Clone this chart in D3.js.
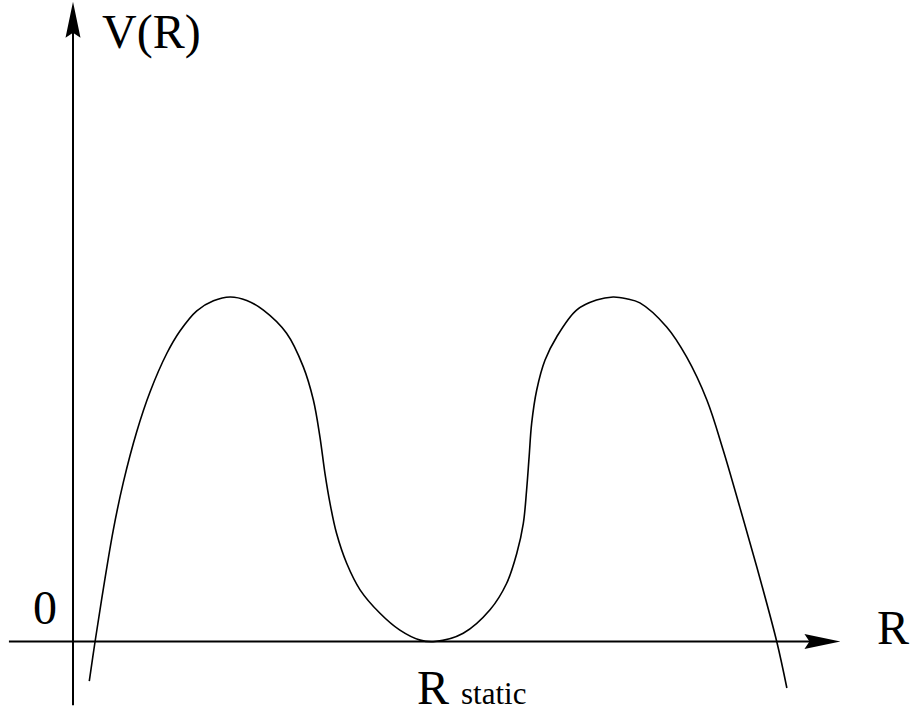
<!DOCTYPE html>
<html>
<head>
<meta charset="utf-8">
<script src="https://cdn.jsdelivr.net/npm/d3@7"></script>
</head>
<body style="margin:0;background:#fff">
<svg id="chart" width="912" height="710" style="display:block"></svg>
<script>
// ---- data (R in units of R_static, V normalised to barrier height) ----
const rValues = [0.045, 0.061, 0.084, 0.111, 0.139, 0.176, 0.213, 0.259, 0.296, 0.342, 0.388, 0.434, 0.480,
                 0.526, 0.590, 0.636, 0.664, 0.682, 0.696, 0.710, 0.728, 0.756, 0.793, 0.848, 0.903, 0.959, 1.000,
                 1.078, 1.152, 1.198, 1.226, 1.244, 1.253, 1.260, 1.267, 1.281, 1.304, 1.336, 1.391, 1.446, 1.492,
                 1.529, 1.566, 1.640, 1.695, 1.751, 1.796, 1.842, 1.889, 1.944, 1.972];
const vValues = [-0.115, 0.000, 0.154, 0.322, 0.462, 0.609, 0.725, 0.836, 0.902, 0.960, 0.989, 1.000, 0.990,
                 0.962, 0.895, 0.798, 0.701, 0.595, 0.488, 0.401, 0.314, 0.227, 0.150, 0.082, 0.033, 0.004, 0.000,
                 0.024, 0.092, 0.169, 0.256, 0.343, 0.439, 0.536, 0.633, 0.730, 0.817, 0.884, 0.962, 0.991, 1.000,
                 0.995, 0.983, 0.913, 0.826, 0.701, 0.556, 0.390, 0.216, 0.000, -0.135];
const axisRExtent = [-0.177, 2.12];
const axisVExtent = [-0.185, 1.857];
const yAxisLabel = "V(R)";
const xAxisLabel = "R";
const originLabel = "0";
const rStaticMain = "R";
const rStaticSub = "static";
const rStaticValue = 1.0;

// ---- scales ----
const x = d3.scaleLinear().domain([0, 1]).range([73, 435]);
const y = d3.scaleLinear().domain([0, 1]).range([641.5, 297]);

const svg = d3.select("#chart");

// arrowhead shape (pointing +x), indented back
function arrowPath(len, hw, notch) {
  return `M0,0 L${-len},${-hw} L${-len + notch},0 L${-len},${hw} Z`;
}

// x axis
const x0 = x(axisRExtent[0]), x1 = x(axisRExtent[1]);
svg.append("line")
  .attr("x1", x0).attr("x2", x1 - 10)
  .attr("y1", y(0)).attr("y2", y(0))
  .attr("stroke", "#000").attr("stroke-width", 2);
svg.append("path")
  .attr("d", arrowPath(36, 7.5, 5))
  .attr("transform", `translate(${x1},${y(0)})`)
  .attr("fill", "#000");

// y axis
const yb = y(axisVExtent[0]), yt = y(axisVExtent[1]);
svg.append("line")
  .attr("x1", x(0)).attr("x2", x(0))
  .attr("y1", yb).attr("y2", yt + 10)
  .attr("stroke", "#000").attr("stroke-width", 2);
svg.append("path")
  .attr("d", arrowPath(36, 7.5, 5))
  .attr("transform", `translate(${x(0)},${yt}) rotate(-90)`)
  .attr("fill", "#000");

// curve
const pts = rValues.map((r, i) => [r, vValues[i]]);
const line = d3.line()
  .x(d => x(d[0]))
  .y(d => y(d[1]))
  .curve(d3.curveCatmullRom.alpha(0.5));
svg.append("path")
  .datum(pts)
  .attr("d", line)
  .attr("fill", "none")
  .attr("stroke", "#000")
  .attr("stroke-width", 1.6)
  .attr("stroke-linejoin", "round");

// labels
function label(tx, ty, size) {
  return svg.append("text")
    .attr("x", tx).attr("y", ty)
    .style("font-family", '"Liberation Serif"')
    .style("font-size", size + "px")
    .attr("fill", "#000");
}
label(x(0) + 29, 48, 48).text(yAxisLabel);
label(x(0) - 40, 624, 48).text(originLabel);
label(877, 644, 48).text(xAxisLabel);

const rs = label(x(rStaticValue) - 18, 704, 48);
rs.append("tspan").text(rStaticMain + " ");
rs.append("tspan").style("font-size", "31px").text(rStaticSub);
</script>
</body>
</html>
